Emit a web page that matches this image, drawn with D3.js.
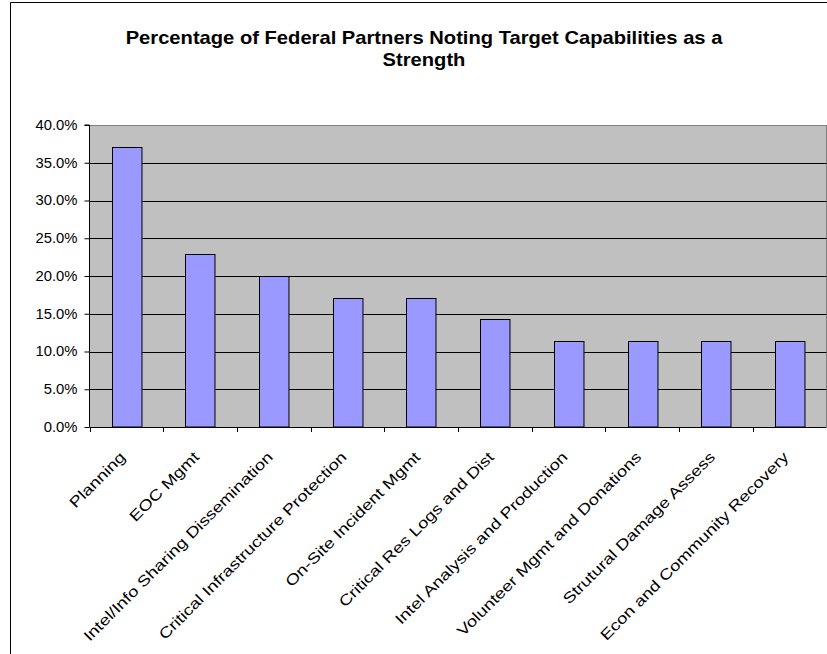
<!DOCTYPE html>
<html><head><meta charset="utf-8">
<script src="https://cdn.jsdelivr.net/npm/d3@7"></script>
<style>body{margin:0;background:#fff}svg{display:block}</style>
</head><body>
<script>
const categories = ["Planning","EOC Mgmt","Intel/Info Sharing Dissemination","Critical Infrastructure Protection","On-Site Incident Mgmt","Critical Res Logs and Dist","Intel Analysis and Production","Volunteer Mgmt and Donations","Strutural Damage Assess","Econ and Community Recovery"];
const values = [0.371,0.229,0.200,0.171,0.171,0.143,0.114,0.114,0.114,0.114];
const yTicks = [0,0.05,0.10,0.15,0.20,0.25,0.30,0.35,0.40];
const titleLines = ["Percentage of Federal Partners Noting Target Capabilities as a","Strength"];

const W=827,H=654;
const FONT="Arial, 'Liberation Sans', sans-serif";
const svg=d3.select("body").append("svg").attr("width",W).attr("height",H);
svg.append("rect").attr("width",W).attr("height",H).attr("fill","#fff");
svg.append("path").attr("d",`M10.5,${H} V2.5 H${W}`).attr("fill","none").attr("stroke","#000").attr("stroke-width",1);

const L=89.5,R=826.5,T=125,B=427;
const x=d3.scaleBand().domain(categories).range([L,R]).paddingInner(0.6).paddingOuter(0.3);
const xb=d3.scaleBand().domain(categories).range([L,R]);
const y=d3.scaleLinear().domain([0,0.4]).range([B,T]);

svg.append("rect").attr("x",L).attr("y",T).attr("width",R-L).attr("height",B-T).attr("fill","#C0C0C0");
svg.append("line").attr("x1",R).attr("x2",R).attr("y1",T).attr("y2",B).attr("stroke","#808080");
svg.append("g").selectAll("line").data(yTicks.slice(1)).join("line")
  .attr("x1",L).attr("x2",R).attr("y1",d=>Math.round(y(d))+0.5).attr("y2",d=>Math.round(y(d))+0.5)
  .attr("stroke",(d,i)=>i===yTicks.length-2?"#808080":"#000").attr("stroke-width",1);

svg.append("g").selectAll("rect").data(values).join("rect")
  .attr("x",(d,i)=>Math.round(x(categories[i]))+0.5).attr("width",x.bandwidth())
  .attr("y",d=>Math.round(y(d))+0.5).attr("height",d=>B-Math.round(y(d))-0.5)
  .attr("fill","#9999FF").attr("stroke","#000").attr("stroke-width",1);

const yAxis=d3.axisLeft(y).tickValues(yTicks).tickFormat(d3.format(".1%")).tickSize(5).tickPadding(6);
const gy=svg.append("g").attr("transform",`translate(${L},0)`).call(yAxis);
gy.selectAll("text").attr("font-family",FONT).attr("font-size",14).attr("fill","#000")
  .attr("x",0).attr("transform","translate(-12,0) scale(1.06,1)");
gy.selectAll("line").attr("stroke","#000");
gy.select(".domain").attr("stroke","#000").attr("d",`M-5,${T}H0V${B}`);

const edges=categories.map(c=>xb(c)).concat([R]);
svg.append("g").selectAll("line").data(edges).join("line")
  .attr("x1",d=>Math.round(d)+0.5).attr("x2",d=>Math.round(d)+0.5).attr("y1",B).attr("y2",B+5).attr("stroke","#000");
svg.append("line").attr("x1",L).attr("x2",R).attr("y1",B+0.5).attr("y2",B+0.5).attr("stroke","#000");

svg.append("g").selectAll("text").data(categories).join("text")
  .attr("transform",d=>`translate(${xb(d)+xb.bandwidth()/2},${B+31}) rotate(-45) scale(1.23,1)`)
  .attr("text-anchor","end").attr("font-family",FONT).attr("font-size",15).attr("fill","#000")
  .text(d=>d);

svg.append("g").selectAll("text").data(titleLines).join("text")
  .attr("transform",(d,i)=>`translate(424,${44+i*22}) scale(1.12,1)`).attr("text-anchor","middle")
  .attr("font-family",FONT).attr("font-weight","bold").attr("font-size",18).attr("fill","#000")
  .text(d=>d);
</script>
</body></html>
